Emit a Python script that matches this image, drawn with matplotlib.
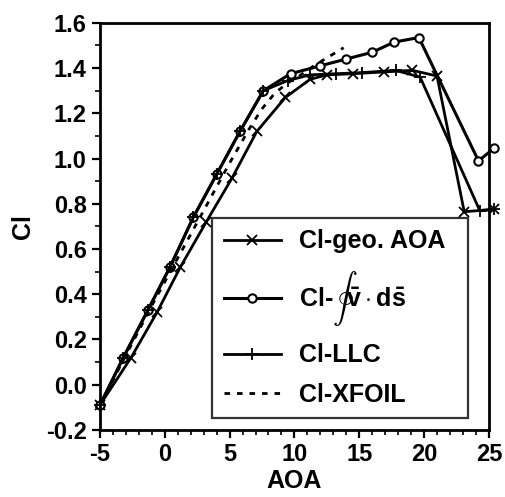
import matplotlib
matplotlib.use('Agg')
import matplotlib.pyplot as plt
from matplotlib.ticker import MultipleLocator, FormatStrFormatter

plt.rcParams['font.family'] = ['Liberation Sans', 'DejaVu Sans']
plt.rcParams['font.weight'] = 'bold'
plt.rcParams['axes.labelweight'] = 'bold'
plt.rcParams['axes.unicode_minus'] = False
plt.rcParams['mathtext.fontset'] = 'custom'
plt.rcParams['mathtext.rm'] = 'Liberation Sans:bold'
plt.rcParams['mathtext.it'] = 'Liberation Sans:bold'
plt.rcParams['mathtext.bf'] = 'Liberation Sans:bold'

# Cl from circulation integral
aoa_circ = [-5, -3.2, -1.3, 0.4, 2.2, 4.0, 5.8, 7.6, 9.7, 12.0, 14.0, 16.0, 17.7, 19.6, 24.2, 25.4]
cl_circ = [-0.09, 0.12, 0.33, 0.52, 0.74, 0.93, 1.12, 1.30, 1.375, 1.41, 1.44, 1.47, 1.515, 1.535, 0.99, 1.045]

# Cl against geometric angle of attack
aoa_geo = [-5, -2.6, -0.6, 1.2, 3.2, 5.2, 7.1, 9.3, 11.2, 12.5, 14.5, 16.9, 19.1, 21.0, 23.1, 25.4]
cl_geo = [-0.09, 0.12, 0.32, 0.52, 0.72, 0.915, 1.12, 1.27, 1.35, 1.37, 1.375, 1.383, 1.39, 1.365, 0.765, 0.775]

# Cl with lifting line correction
aoa_llc = [-5, -3.2, -1.3, 0.4, 2.2, 4.0, 5.8, 7.6, 9.5, 11.2, 13.2, 15.2, 17.8, 19.7, 24.3, 25.4]
cl_llc = [-0.09, 0.12, 0.33, 0.52, 0.74, 0.93, 1.12, 1.30, 1.345, 1.37, 1.375, 1.38, 1.39, 1.36, 0.77, 0.775]

# XFOIL reference
aoa_xfoil = [-5, -3, -1, 1, 3, 5, 6.5, 7.5, 8.5, 9.5, 10.5, 11.5, 12.5, 13.8]
cl_xfoil = [-0.09, 0.13, 0.35, 0.56, 0.77, 0.98, 1.13, 1.22, 1.29, 1.335, 1.37, 1.41, 1.445, 1.49]

fig = plt.figure(figsize=(5.05, 4.97), dpi=100)
ax = fig.add_axes([0.198, 0.135, 0.77, 0.819])

ax.plot(aoa_geo, cl_geo, color='black', lw=2, marker='x', ms=7, mew=1.3,
        clip_on=False, label='Cl-geo. AOA')
ax.plot(aoa_circ, cl_circ, color='black', lw=2.2, marker='o', ms=6, mew=1.5,
        mfc='white', mec='black', clip_on=False,
        label=r'Cl-$\oint\bar{\mathbf{v}}\cdot\mathbf{d}\bar{\mathbf{s}}$')
ax.plot(aoa_llc, cl_llc, color='black', lw=2, marker='+', ms=8, mew=1.3,
        clip_on=False, label='Cl-LLC')
ax.plot(aoa_xfoil, cl_xfoil, color='black', lw=2, linestyle=(0, (2, 2.5)),
        label='Cl-XFOIL')

ax.set_xlim(-5, 25)
ax.set_ylim(-0.2, 1.6)
ax.xaxis.set_major_locator(MultipleLocator(5))
ax.xaxis.set_minor_locator(MultipleLocator(1))
ax.yaxis.set_major_locator(MultipleLocator(0.2))
ax.yaxis.set_minor_locator(MultipleLocator(0.1))
ax.yaxis.set_major_formatter(FormatStrFormatter('%.1f'))
ax.tick_params(which='major', direction='out', length=6, width=1.6, labelsize=17)
ax.tick_params(which='minor', direction='out', length=3.5, width=1.2)
for sp in ax.spines.values():
    sp.set_linewidth(2)

ax.set_xlabel('AOA', fontsize=18, labelpad=2)
ax.set_ylabel('Cl', fontsize=18, labelpad=8)

leg = ax.legend(loc='lower left', bbox_to_anchor=(0.289, 0.029, 0.657, 0.489),
                mode='expand', fontsize=18, handlelength=2.3, handletextpad=0.7,
                labelspacing=0.62, borderpad=0.45, fancybox=False, frameon=True,
                borderaxespad=0)
leg.get_frame().set_edgecolor('black')
leg.get_frame().set_linewidth(1.6)

fig.savefig('out.png', dpi=100)
